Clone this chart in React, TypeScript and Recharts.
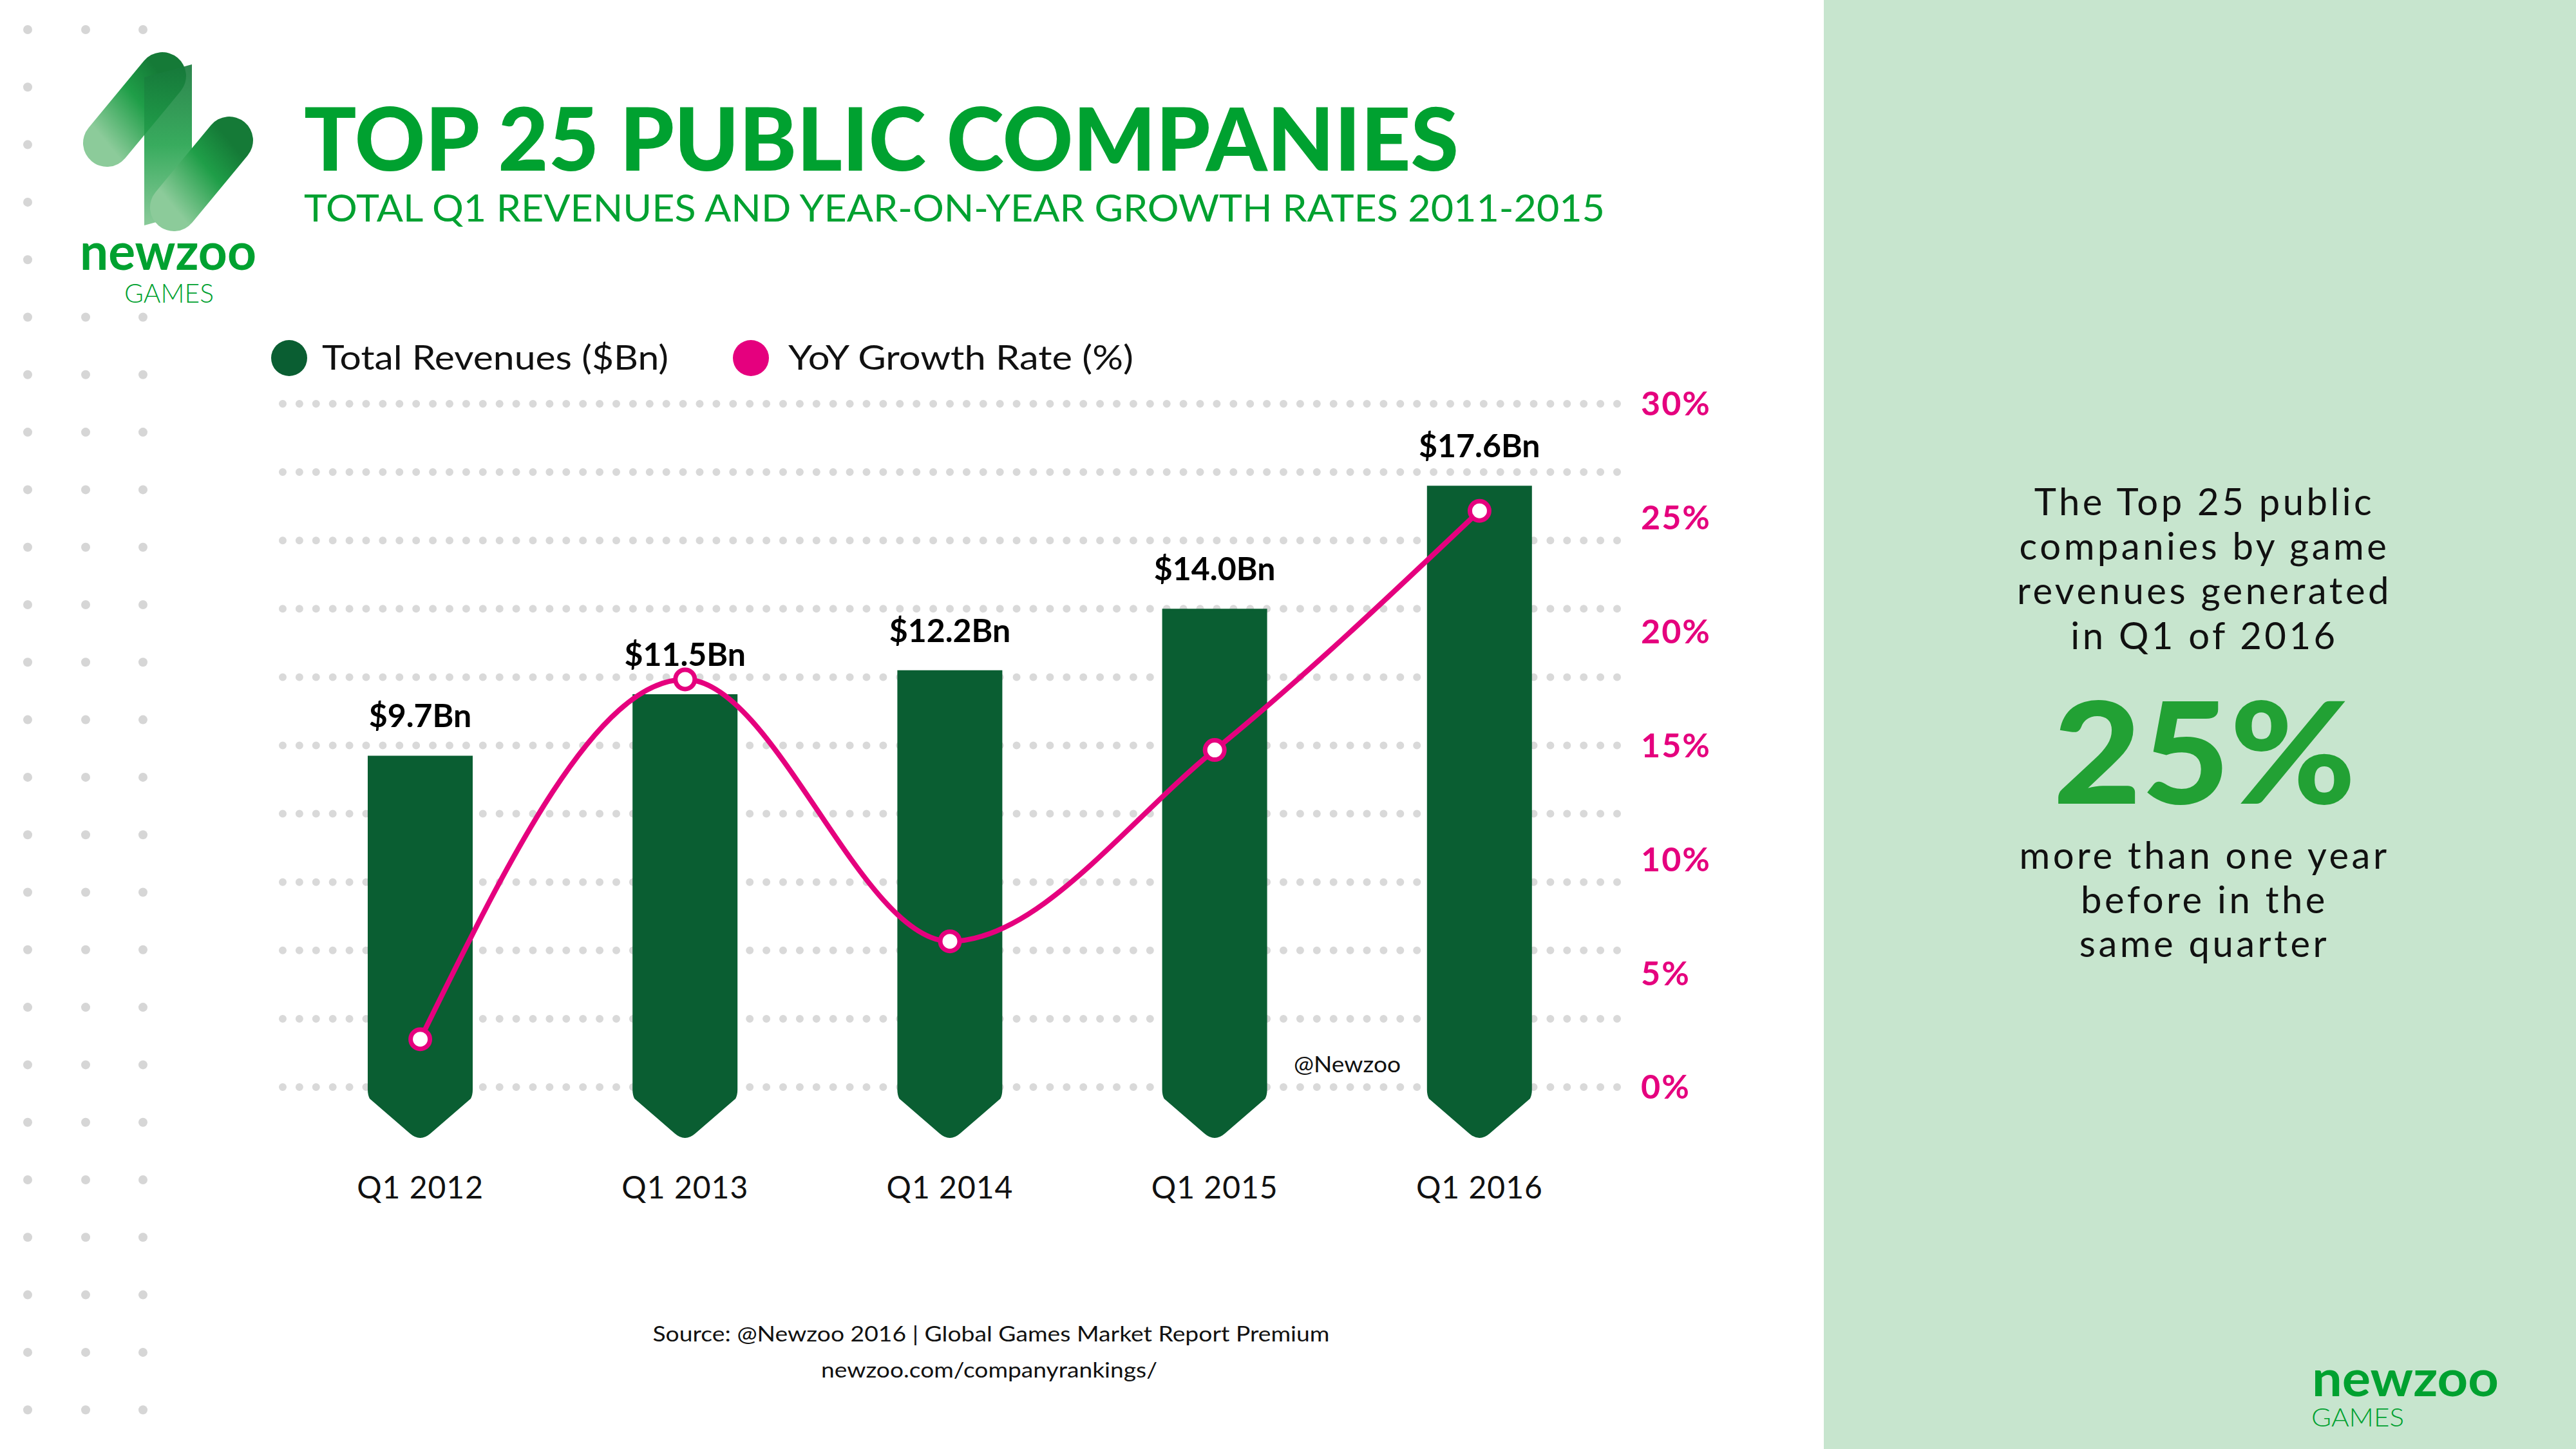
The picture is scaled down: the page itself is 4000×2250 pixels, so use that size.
import React from "react";
import {
  ComposedChart,
  Bar,
  Line,
  XAxis,
  YAxis,
  CartesianGrid,
  LabelList,
} from "recharts";

const quarters = ["Q1 2012", "Q1 2013", "Q1 2014", "Q1 2015", "Q1 2016"];
const revenues = [9.7, 11.5, 12.2, 14.0, 17.6];
const growthRates = [2.1, 17.9, 6.4, 14.8, 25.3];
const revenueLabels = ["$9.7Bn", "$11.5Bn", "$12.2Bn", "$14.0Bn", "$17.6Bn"];
const revenueTicks = [0, 2, 4, 6, 8, 10, 12, 14, 16, 18, 20];
const growthTicks = [0, 5, 10, 15, 20, 25, 30];

const GREEN = "#00A130";
const DARK_GREEN = "#0A5E32";
const PINK = "#E5007E";
const FONT = "Lato, 'Open Sans', sans-serif";

const data = quarters.map((q, i) => ({
  quarter: q,
  revenue: revenues[i],
  growth: growthRates[i],
  label: revenueLabels[i],
}));

// bar with a pointed tip hanging under the zero line
const ArrowBar = (props: any) => {
  const { x, y, width, height, fill } = props;
  if (width == null || height == null) return null;
  const base = y + height;
  const cx = x + width / 2;
  const d = `M${x},${y} H${x + width} V${base + 4} Q${x + width},${base + 12} ${x + width - 3},${base + 18} L${cx + 16},${base + 72} Q${cx},${base + 86} ${cx - 16},${base + 72} L${x + 3},${base + 18} Q${x},${base + 12} ${x},${base + 4} Z`;
  return <path d={d} fill={fill} />;
};

const DottedLine = (props: any) => {
  const { x1, x2, y1, y2 } = props;
  return (
    <line
      key={`grid-${y1}`}
      x1={x1 - 8}
      x2={x2 + 10}
      y1={y1}
      y2={y2}
      stroke="#D9D9D9"
      strokeWidth={12}
      strokeLinecap="round"
      strokeDasharray="0 25.9"
    />
  );
};

const SideDots = () => {
  const cols = [43, 133, 222];
  const dots: React.ReactNode[] = [];
  for (let r = 0; r < 25; r++) {
    const y = 46 + r * 89.3;
    cols.forEach((x, c) => {
      if (c > 0 && y > 70 && y < 480) return;
      dots.push(<circle key={`${r}-${c}`} cx={x} cy={y} r={7} fill="#D6D6D6" />);
    });
  }
  return <g>{dots}</g>;
};

const Logo = () => (
  <g>
    <defs>
      <linearGradient id="lg1" x1="0" y1="1" x2="1" y2="0">
        <stop offset="0%" stopColor="#8CCB9A" />
        <stop offset="60%" stopColor="#1F9E48" />
        <stop offset="100%" stopColor="#157A37" />
      </linearGradient>
      <linearGradient id="lg2" x1="0" y1="0" x2="0" y2="1">
        <stop offset="0%" stopColor="#16783A" />
        <stop offset="50%" stopColor="#22A24C" />
        <stop offset="100%" stopColor="#7DC48E" />
      </linearGradient>
    </defs>
    <line x1={252} y1={118} x2={166} y2={222} stroke="url(#lg1)" strokeWidth={74} strokeLinecap="round" />
    <polygon points="224,120 298,100 298,330 224,350" fill="url(#lg2)" opacity={0.9} />
    <line x1={356} y1={218} x2={270} y2={322} stroke="url(#lg1)" strokeWidth={74} strokeLinecap="round" />
  </g>
);

const App = () => {
  return (
    <div
      style={{
        position: "absolute",
        left: 0,
        top: 0,
        width: 4000,
        height: 2250,
        background: "#fff",
        overflow: "hidden",
        fontFamily: FONT,
      }}
    >
      <svg width={4000} height={2250} style={{ position: "absolute", left: 0, top: 0 }}>
        <rect x={2832} y={0} width={1168} height={2250} fill="#C7E5CE" />
        <SideDots />
        <Logo />
        <text x={124} y={419} fontSize={80} fontWeight={700} fill={GREEN} fontFamily={FONT} textLength={274} lengthAdjust="spacingAndGlyphs">
          newzoo
        </text>
        <text x={193} y={470} fontSize={42} fontWeight={300} fill={GREEN} fontFamily={FONT} textLength={139} lengthAdjust="spacingAndGlyphs">
          GAMES
        </text>

        <text x={472} y={265} fontSize={135} fontWeight={900} fill={GREEN} fontFamily={FONT} textLength={1793} lengthAdjust="spacingAndGlyphs">
          TOP 25 PUBLIC COMPANIES
        </text>
        <text x={472} y={344} fontSize={58} fill={GREEN} fontFamily={FONT} textLength={2020} lengthAdjust="spacingAndGlyphs">
          TOTAL Q1 REVENUES AND YEAR-ON-YEAR GROWTH RATES 2011-2015
        </text>

        {/* legend */}
        <circle cx={449} cy={556} r={28} fill={DARK_GREEN} />
        <text x={500} y={574} fontSize={52} fill="#111" fontFamily={FONT} textLength={538} lengthAdjust="spacingAndGlyphs">
          Total Revenues ($Bn)
        </text>
        <circle cx={1166} cy={556} r={28} fill={PINK} />
        <text x={1224} y={574} fontSize={52} fill="#111" fontFamily={FONT} textLength={536} lengthAdjust="spacingAndGlyphs">
          YoY Growth Rate (%)
        </text>

        <text x={2092} y={1665} fontSize={34} fill="#111" fontFamily={FONT} textAnchor="middle" textLength={166} lengthAdjust="spacingAndGlyphs">
          @Newzoo
        </text>

        <text x={1539} y={2083} fontSize={32} fill="#111" fontFamily={FONT} textAnchor="middle" textLength={1051} lengthAdjust="spacingAndGlyphs">
          Source: @Newzoo 2016 | Global Games Market Report Premium
        </text>
        <text x={1536} y={2139} fontSize={32} fill="#111" fontFamily={FONT} textAnchor="middle" textLength={522} lengthAdjust="spacingAndGlyphs">
          newzoo.com/companyrankings/
        </text>

        {/* right panel */}
        <g fontFamily={FONT} fontSize={58} fill="#111" textAnchor="middle" letterSpacing={4.5}>
          <text x={3423} y={800}>The Top 25 public</text>
          <text x={3423} y={869}>companies by game</text>
          <text x={3423} y={938}>revenues generated</text>
          <text x={3423} y={1008}>in Q1 of 2016</text>
          <text x={3423} y={1248} fontSize={220} fontWeight={900} letterSpacing={0} fill="#22A134" textLength={470} lengthAdjust="spacingAndGlyphs">
            25%
          </text>
          <text x={3423} y={1349}>more than one year</text>
          <text x={3423} y={1418}>before in the</text>
          <text x={3423} y={1486}>same quarter</text>
        </g>
        <text x={3590} y={2168} fontSize={78} fontWeight={700} fill={GREEN} fontFamily={FONT} textLength={290} lengthAdjust="spacingAndGlyphs">
          newzoo
        </text>
        <text x={3589} y={2215} fontSize={39} fontWeight={300} fill={GREEN} fontFamily={FONT} textLength={144} lengthAdjust="spacingAndGlyphs">
          GAMES
        </text>
      </svg>

      <div style={{ position: "absolute", left: 0, top: 0 }}>
        <ComposedChart
          width={2800}
          height={2000}
          data={data}
          margin={{ top: 627, left: 447, right: 147, bottom: 112 }}
        >
          <CartesianGrid yAxisId="left" vertical={false} horizontal={DottedLine} />
          <XAxis
            dataKey="quarter"
            axisLine={false}
            tickLine={false}
            height={200}
            tickMargin={133}
            tick={{ fill: "#111", fontSize: 48, fontFamily: FONT, letterSpacing: 1 }}
          />
          <YAxis yAxisId="left" hide domain={[0, 20]} ticks={revenueTicks} />
          <YAxis
            yAxisId="right"
            orientation="right"
            domain={[0, 30]}
            ticks={growthTicks}
            tickFormatter={(v) => `${v}%`}
            axisLine={false}
            tickLine={false}
            width={150}
            tickMargin={39}
            tick={{ fill: PINK, fontSize: 52, fontWeight: 700, fontFamily: FONT, letterSpacing: 2 }}
          />
          <Bar
            yAxisId="left"
            dataKey="revenue"
            fill={DARK_GREEN}
            barSize={163}
            shape={<ArrowBar />}
            isAnimationActive={false}
          >
            <LabelList
              dataKey="label"
              position="top"
              offset={44}
              fill="#000"
              fontSize={50}
              fontWeight={700}
              fontFamily={FONT}
            />
          </Bar>
          <Line
            yAxisId="right"
            type="monotone"
            dataKey="growth"
            stroke={PINK}
            strokeWidth={8}
            dot={{ r: 15, fill: "#fff", stroke: PINK, strokeWidth: 7 }}
            isAnimationActive={false}
          />
        </ComposedChart>
      </div>
    </div>
  );
};

export default App;
